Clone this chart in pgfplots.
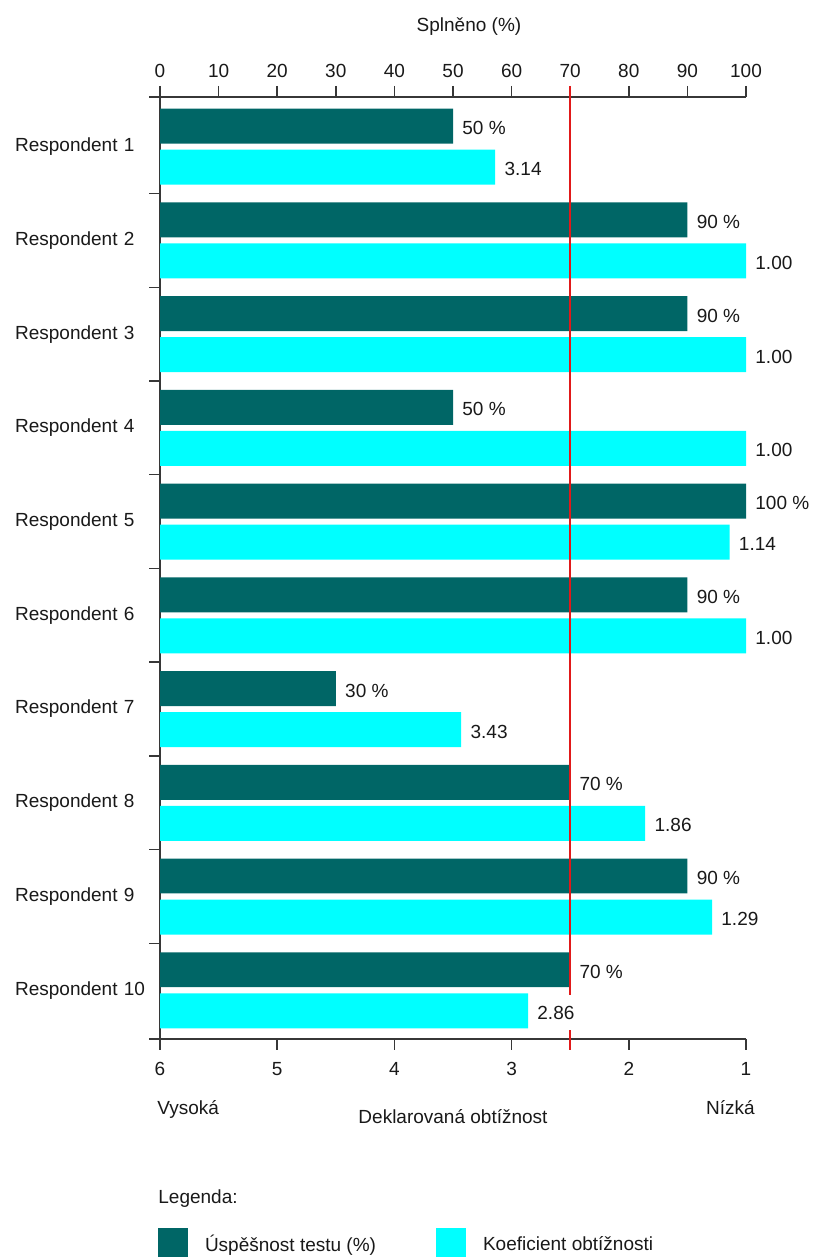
\documentclass[border=0pt]{standalone}
\usepackage{fontspec}
\setmainfont{Liberation Sans}
\usepackage{pgfplots}
\usepackage{pgfplotstable}
\pgfplotsset{compat=1.18}
\definecolor{darkteal}{RGB}{0,102,102}
\definecolor{cyanbar}{RGB}{0,255,255}
\definecolor{refred}{RGB}{225,25,25}
\definecolor{axisgray}{RGB}{55,55,55}
\definecolor{txt}{RGB}{25,25,25}

\pgfplotstableread{
idx pct coef
1 50 3.14
2 90 1.00
3 90 1.00
4 50 1.00
5 100 1.14
6 90 1.00
7 30 3.43
8 70 1.86
9 90 1.29
10 70 2.86
}\datatable

\pgfplotsset{
  commonaxis/.style={
    scale only axis, width=293pt, height=471pt,
    at={(80pt,109pt)}, anchor=south west,
    tick align=outside, major tick length=5.5pt, minor tick length=5.5pt,
    tick style={axisgray, line width=0.75pt},
    axis line style={axisgray, line width=0.75pt},
    /pgf/number format/assume math mode=true,
    tick label style={inner sep=0pt, text=txt, font=\fontsize{9.5}{11.4}\selectfont},
    font=\fontsize{9.5}{11.4}\selectfont,
    clip=false,
  }
}

\begin{document}
\begin{tikzpicture}[font=\fontsize{9.5}{11.4}\selectfont]
\useasboundingbox (0,0) rectangle (407pt,628.5pt);

% bottom axis: declared difficulty 6 .. 1
\begin{axis}[commonaxis,
  xmin=1, xmax=6, x dir=reverse, ymin=0, ymax=1,
  axis x line*=bottom, hide y axis,
  xtick pos=left, xticklabel pos=left,
  xtick={1,2,3,4,5,6}, xticklabel shift=6pt,
]
\end{axis}

% main axis: percent 0 .. 100
\begin{axis}[commonaxis,
  xmin=0, xmax=100, ymin=0.47, ymax=10.52, y dir=reverse,
  axis x line*=top, axis y line*=left,
  xtick pos=right, xticklabel pos=right,
  ytick pos=left, yticklabel pos=left,
  xtick={0,10,...,100}, xticklabel shift=4pt,
  ytick={1,...,10},
  yticklabels={Respondent 1,Respondent 2,Respondent 3,Respondent 4,Respondent 5,Respondent 6,Respondent 7,Respondent 8,Respondent 9,Respondent 10},
  major y tick style={draw=none},
  minor ytick={0.47,1.5,2.5,3.5,4.5,5.5,6.5,7.5,8.5,9.5,10.52},
  yticklabel shift=0.75pt,
  yticklabel style={text width=66pt, align=left},
  legend columns=2,
  legend style={at={(-0.0034,-0.2006)}, anchor=north west, draw=none, fill=none,
    inner sep=0pt, outer sep=0pt, row sep=0pt,
    nodes={inner sep=0pt, text=txt},
    font=\fontsize{9.5}{11.4}\selectfont,
    /tikz/every odd column/.append style={column sep=8.5pt},
    /tikz/every even column/.append style={column sep=30pt}},
  legend cell align=left,
]
\addplot[xbar, bar shift=0pt, bar width=0.373, fill=darkteal, draw=none,
  legend image code/.code={\fill[darkteal] (0pt,-6.5pt) rectangle (15pt,8.5pt);}]
  table[x=pct, y expr=\thisrow{idx}-0.219]{\datatable};
\addlegendentry{Úspěšnost testu (\%)}
\addplot[xbar, bar shift=0pt, bar width=0.373, fill=cyanbar, draw=none,
  legend image code/.code={\fill[cyanbar] (0pt,-6.5pt) rectangle (15pt,8.5pt);}]
  table[x expr={(6-\thisrow{coef})*20}, y expr=\thisrow{idx}+0.219]{\datatable};
\addlegendentry{Koeficient obtížnosti}

% reference line at 70 %
\addplot[forget plot, refred, line width=1pt, mark=none] coordinates {(70,0.353) (70,10.637)};

% value labels
\addplot[forget plot, draw=none, mark=none, point meta=x,
  nodes near coords={\pgfmathprintnumber{\pgfplotspointmeta}~\%},
  nodes near coords align={horizontal},
  every node near coord/.append style={anchor=west, inner sep=0pt, xshift=4.5pt, yshift=-1pt, text=txt,
     font=\fontsize{9.5}{11.4}\selectfont}]
  table[x=pct, y expr=\thisrow{idx}-0.219]{\datatable};
\addplot[forget plot, draw=none, mark=none, point meta={\thisrow{coef}},
  nodes near coords={\pgfmathprintnumber[fixed,fixed zerofill,precision=2]{\pgfplotspointmeta}},
  nodes near coords align={horizontal},
  every node near coord/.append style={anchor=west, inner sep=0pt, xshift=4.5pt, yshift=-1pt, text=txt,
     fill=white, minimum height=17.5pt, font=\fontsize{9.5}{11.4}\selectfont}]
  table[x expr={(6-\thisrow{coef})*20}, y expr=\thisrow{idx}+0.219]{\datatable};
\end{axis}

\node[anchor=base, text=txt] at (234.5pt,612.5pt) {Splněno (\%)};
\node[anchor=base west, inner sep=0pt, text=txt] at (78.5pt,71pt) {Vysoká};
\node[anchor=base east, inner sep=0pt, text=txt] at (377.5pt,71pt) {Nízká};
\node[anchor=base, inner sep=0pt, text=txt] at (226.5pt,66.5pt) {Deklarovaná obtížnost};
\node[anchor=base west, inner sep=0pt, text=txt] at (79pt,27pt) {Legenda:};
\end{tikzpicture}
\end{document}
